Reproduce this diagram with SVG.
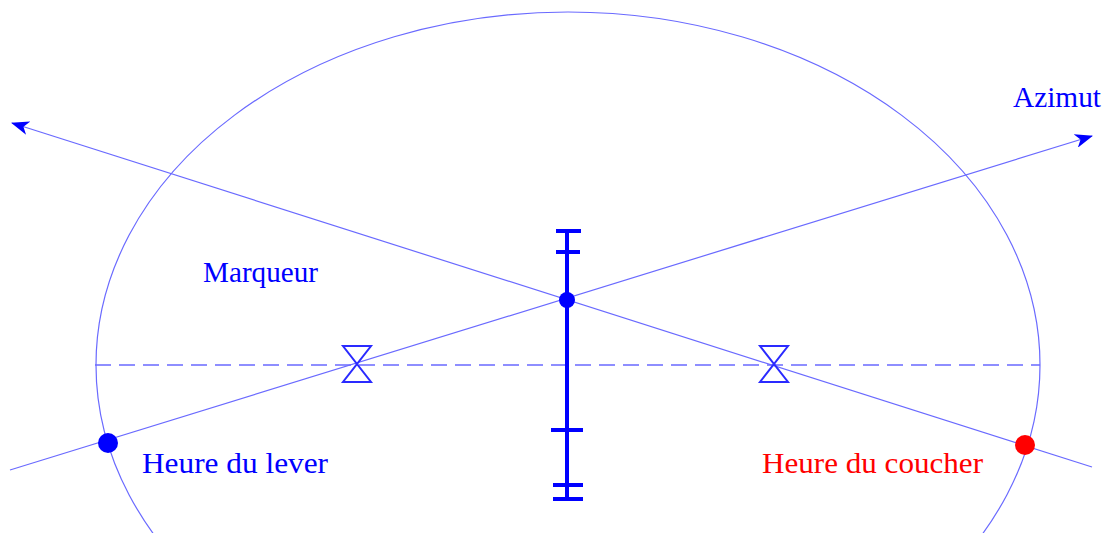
<svg xmlns="http://www.w3.org/2000/svg" width="1110" height="533" viewBox="0 0 1110 533">
<defs>
<style>
.thin{fill:none;stroke:#6a6aff;stroke-width:1.2}
.dash{fill:none;stroke:#6a6aff;stroke-width:1.4;stroke-dasharray:16 8}
.bar{fill:none;stroke:#0000ff;stroke-width:4}
.tick{fill:none;stroke:#0000ff;stroke-width:4}
.hg{fill:none;stroke:#2a2aff;stroke-width:2}
.t{font-family:"Liberation Serif","Times New Roman",serif;font-size:30px}
</style>
<marker id="ah" viewBox="0 0 18 14" refX="17" refY="7" markerWidth="18" markerHeight="14" markerUnits="userSpaceOnUse" orient="auto">
<path d="M0,0 L18,7 L0,14 L5,7 Z" fill="#0000ff"/>
</marker>
</defs>
<g id="connectors">
<ellipse class="thin" cx="568" cy="365" rx="472" ry="353"/>
<line class="dash" x1="95" y1="365" x2="1040" y2="365"/>
<line class="thin" x1="1092" y1="467" x2="12" y2="123" marker-end="url(#ah)"/>
<line class="thin" x1="10" y1="470" x2="1092" y2="136" marker-end="url(#ah)"/>
</g>
<g id="marker-pole">
<line class="bar" x1="567" y1="230" x2="567" y2="499"/>
<line class="tick" x1="556" y1="231" x2="581" y2="231"/>
<line class="tick" x1="556" y1="252" x2="580" y2="252"/>
<line class="tick" x1="551" y1="430" x2="583" y2="430"/>
<line class="tick" x1="553" y1="485" x2="583" y2="485"/>
<line class="tick" x1="553" y1="499" x2="583" y2="499"/>
<circle cx="567" cy="300" r="8" fill="#0000ff"/>
</g>
<g id="hourglass-left">
<path class="hg" d="M343,346 L371,346 L343,382 L371,382 Z"/>
</g>
<g id="hourglass-right">
<path class="hg" d="M760,346 L788,346 L760,382 L788,382 Z"/>
</g>
<g id="sunrise">
<circle cx="108" cy="443" r="10" fill="#0000ff"/>
<text class="t" x="142" y="473" fill="#0000ff" textLength="186" lengthAdjust="spacingAndGlyphs">Heure du lever</text>
</g>
<g id="sunset">
<circle cx="1025" cy="445" r="10" fill="#ff0000"/>
<text class="t" x="762" y="473" fill="#ff0000" textLength="221" lengthAdjust="spacingAndGlyphs">Heure du coucher</text>
</g>
<g id="label-marqueur">
<text class="t" x="203" y="282" fill="#0000ff" textLength="115" lengthAdjust="spacingAndGlyphs">Marqueur</text>
</g>
<g id="label-azimut">
<text class="t" x="1013" y="107" fill="#0000ff" textLength="88" lengthAdjust="spacingAndGlyphs">Azimut</text>
</g>
</svg>
